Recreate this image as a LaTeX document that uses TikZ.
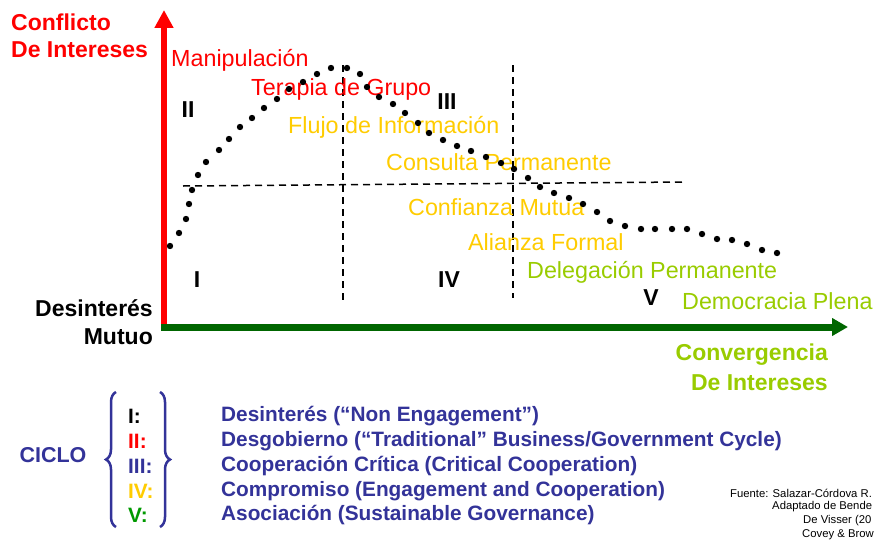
\documentclass[tikz,border=0pt]{standalone}
\usepackage{fontspec}
\setmainfont{Liberation Sans}
\usetikzlibrary{arrows.meta,decorations.pathreplacing}
\definecolor{cred}{RGB}{255,0,0}
\definecolor{cgold}{RGB}{255,204,0}
\definecolor{clime}{RGB}{153,204,0}
\definecolor{caxis}{RGB}{0,102,0}
\definecolor{cblue}{RGB}{51,51,153}
\definecolor{cgreen}{RGB}{0,153,0}
\tikzset{
  big/.style={font=\fontsize{23}{27}\selectfont\bfseries, inner sep=0pt},
  lbl/.style={font=\fontsize{23.3}{27}\selectfont, inner sep=0pt, anchor=west},
  roman/.style={font=\fontsize{23}{27}\selectfont\bfseries, inner sep=0pt},
  leg/.style={font=\fontsize{20.8}{25}\selectfont\bfseries, inner sep=0pt, anchor=west},
  src/.style={font=\fontsize{11.3}{13}\selectfont, inner sep=0pt, anchor=west},
  guide/.style={dash pattern=on 7pt off 5pt, line width=1.5pt},
  dotpt/.style={fill=black},
  brc/.style={cblue, line width=2.5pt, decorate, decoration={brace, amplitude=10pt}}
}
\begin{document}
\begin{tikzpicture}[x=1pt,y=-1pt]
\path[use as bounding box, fill=white] (0,0) rectangle (874,543);
% axes
\coordinate (origin) at (164,330);
\coordinate (ytop) at (164,10);
\coordinate (xstart) at (161,327);
\coordinate (xend) at (848,327);
\draw[cred, line width=6.5pt, -{Triangle[length=18pt,width=18pt]}] (origin) -- (ytop);
\draw[caxis, line width=7pt, -{Triangle[length=16pt,width=17pt]}] (xstart) -- (xend);
% guides
\coordinate (v1t) at (343,65); \coordinate (v1b) at (343,300);
\coordinate (v2t) at (513,65); \coordinate (v2b) at (513,298);
\coordinate (hl) at (183,186); \coordinate (hr) at (685,182);
\draw[guide] (v1t) -- (v1b);
\draw[guide] (v2t) -- (v2b);
\draw[guide] (hl) -- (hr);
% axis labels
\node[big, cred, anchor=west] (c1) at (11,22) {Conflicto};
\node[big, cred, anchor=west] (c2) at (11,50) {De Intereses};
\node[big, anchor=east] (d1) at (153,308) {Desinterés};
\node[big, anchor=east] (d2) at (153,337) {Mutuo};
\node[big, clime, anchor=east] (g1) at (828,355) {Convergencia};
\node[big, clime, anchor=east] (g2) at (828,383) {De Intereses};
% stage labels
\node[lbl, cred] (t1) at (171,60) {Manipulación};
\node[lbl, cred] (t2) at (251,89) {Terapia de Grupo};
\node[lbl, cgold] (t3) at (288,127) {Flujo de Información};
\node[lbl, cgold] (t4) at (386,162) {Consulta Permanente};
\node[lbl, cgold] (t5) at (408,207) {Confianza Mutua};
\node[lbl, cgold] (t6) at (468,242) {Alianza Formal};
\node[lbl, clime] (t7) at (527,272) {Delegación Permanente};
\node[lbl, clime] (t8) at (682,301) {Democracia Plena};
% roman numerals
\node[roman] (r2) at (188,110) {II};
\node[roman] (r3) at (447,102) {III};
\node[roman] (r1) at (197,280) {I};
\node[roman] (r4) at (449,280) {IV};
\node[roman] (r5) at (651,298) {V};
% dotted curve
\foreach \p in {(170,246),(179,233),(186,219),(189,204),(192,190),(198,175),(206,162),(219,150),(229,139),(240,127),(252,118),(264,108),(277,99),(289,89),(303,82),(317,74),(331,68),(347,68),(360,74),(367,87),(379,97),(393,104),(405,113),(418,123),(429,133),(443,140),(457,146),(471,151),(486,157),(501,163),(514,169),(528,178),(540,187),(554,193),(569,198),(583,204),(597,212),(610,221),(625,226),(641,229),(655,229),(672,229),(687,229),(702,234),(717,239),(732,240),(747,244),(762,250),(777,253)}
  \fill[dotpt] \p circle (3.2pt);
% legend
\node[big, cblue, font=\fontsize{21.5}{25}\selectfont\bfseries, anchor=center] (ciclo) at (53,455) {CICLO};
\coordinate (lb1) at (116,527); \coordinate (lb2) at (116,392);
\coordinate (rb1) at (160,392); \coordinate (rb2) at (160,527);
\draw[brc] (lb1) -- (lb2);
\draw[brc] (rb1) -- (rb2);
\node[leg] (n1) at (128,416) {I:};
\node[leg, cred] (n2) at (128,441) {II:};
\node[leg, cblue] (n3) at (128,466) {III:};
\node[leg, cgold] (n4) at (128,491) {IV:};
\node[leg, cgreen] (n5) at (128,515) {V:};
\node[leg, cblue] (l1) at (221,416) {Desinterés (“Non Engagement”)};
\node[leg, cblue] (l2) at (221,441) {Desgobierno (“Traditional” Business/Government Cycle)};
\node[leg, cblue] (l3) at (221,466) {Cooperación Crítica (Critical Cooperation)};
\node[leg, cblue] (l4) at (221,491) {Compromiso (Engagement and Cooperation)};
\node[leg, cblue] (l5) at (221,515) {Asociación (Sustainable Governance)};
% source
\node[src] (s1) at (730,493) {Fuente: Salazar-Córdova R.};
\node[src] (s2) at (772,507) {Adaptado de Bende};
\node[src] (s3) at (803,521) {De Visser (20};
\node[src] (s4) at (802,535) {Covey \& Brow};
\end{tikzpicture}
\end{document}
